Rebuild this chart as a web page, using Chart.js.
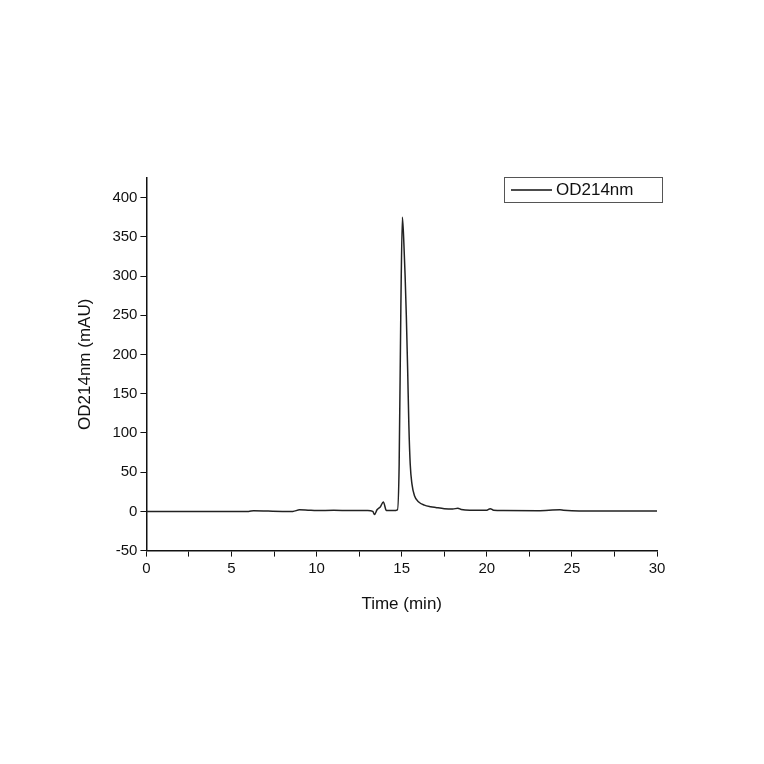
<!DOCTYPE html><html><head><script src="https://cdn.jsdelivr.net/npm/chart.js@4"></script>
<style>body{margin:0;background:#fff}</style></head><body><canvas id="c" width="764" height="764"></canvas>
<script>
const timeMin=[0,3,6,6.3,8,8.6,9,9.5,10,11,12,13,13.3,13.4,13.55,13.75,13.92,14.1,14.5,14.75,14.85,14.95,15.04,15.13,15.2,15.27,15.35,15.42,15.5,15.6,15.75,16,16.33,16.7,17,17.5,18,18.3,18.5,19,20,20.2,20.4,21,23,24.3,24.5,25,26,28,30];
const od214=[0,0,0,0.8,0,0,2,1.5,1,1.5,1,1,0,-4,2,6,12,1,1,2,60,260,375,340,300,250,180,110,60,35,20,12,8,6,5,3.5,3,4,2.5,1.5,1.5,3.5,1.5,1,0.8,2,1.5,0.8,0.5,0.5,0.5];
const xTicks=[0,5,10,15,20,25,30];
const yTicks=[-50,0,50,100,150,200,250,300,350,400];
const seriesLabel='OD214nm';
const font={family:'Arial, "Liberation Sans"',size:15};
const legendBox={id:'lb',afterDraw(ch){const c=ch.ctx;c.save();c.strokeStyle='#555';c.lineWidth=1;c.strokeRect(504.5,177.5,158,25);c.strokeStyle='#111';c.lineWidth=1.5;c.beginPath();c.moveTo(511,190);c.lineTo(552,190);c.stroke();c.fillStyle='#111';c.font='17px Arial, "Liberation Sans"';c.textBaseline='middle';c.fillText(ch.data.datasets[0].label,556,190);c.restore();}};
new Chart(document.getElementById('c'),{type:'scatter',data:{datasets:[{label:seriesLabel,data:timeMin.map((t,i)=>({x:t,y:od214[i]})),showLine:true,borderColor:'#222',borderWidth:1.5,pointRadius:0,cubicInterpolationMode:'monotone'}]},
options:{responsive:false,animation:false,layout:{padding:{left:71,right:107,top:178,bottom:145}},plugins:{legend:{display:false},tooltip:{enabled:false}},
scales:{x:{type:'linear',min:0,max:30,border:{color:'#111',width:1.5},grid:{drawOnChartArea:false,color:'#111',tickLength:6},ticks:{stepSize:2.5,color:'#111',font,maxRotation:0,callback:v=>xTicks.includes(v)?v:''},title:{display:true,text:'Time (min)',color:'#111',font:{...font,size:17},padding:{top:14}}},
y:{min:-50,max:425,border:{color:'#111',width:1.5},grid:{drawOnChartArea:false,color:'#111',tickLength:6},ticks:{stepSize:25,color:'#111',font,callback:v=>yTicks.includes(v)?v:''},title:{display:true,text:'OD214nm (mAU)',color:'#111',font:{...font,size:17},padding:{bottom:14}}}}},plugins:[legendBox]});
</script></body></html>
